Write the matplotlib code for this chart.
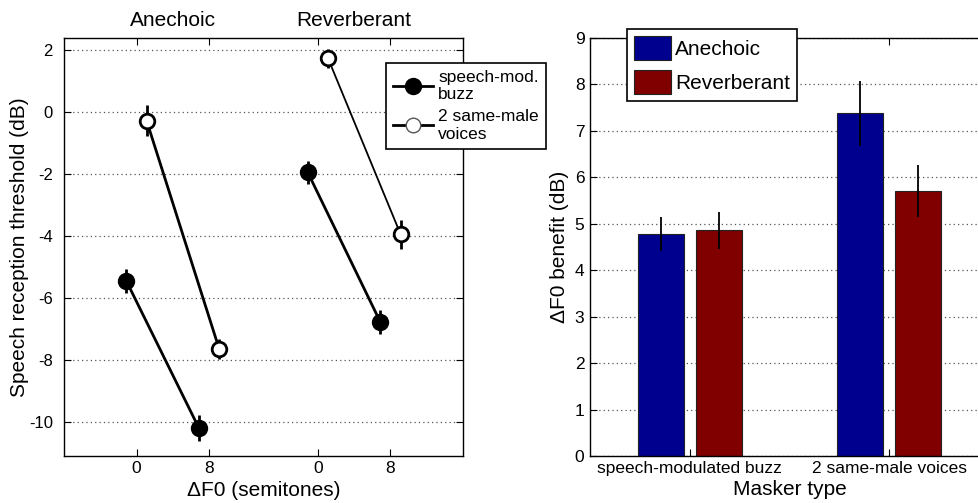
import matplotlib
matplotlib.use("Agg")
import matplotlib.pyplot as plt
import numpy as np
from matplotlib.lines import Line2D

plt.rcParams["font.family"] = ["Liberation Sans", "DejaVu Sans"]
plt.rcParams["axes.unicode_minus"] = False

# Left panel: SRT by masker, room and dF0
conditions = ["Anechoic", "Reverberant"]
df0_labels = ["0", "8", "0", "8"]
buzz_srt = {"Anechoic": [-5.45, -10.2], "Reverberant": [-1.94, -6.77]}
buzz_err = {"Anechoic": [0.4, 0.43], "Reverberant": [0.37, 0.4]}
voices_srt = {"Anechoic": [-0.28, -7.65], "Reverberant": [1.74, -3.94]}
voices_err = {"Anechoic": [0.5, 0.33], "Reverberant": [0.3, 0.47]}

# Right panel: dF0 benefit
maskers = ["speech-modulated buzz", "2 same-male voices"]
benefit_anechoic = [4.78, 7.38]
benefit_anechoic_err = [0.36, 0.7]
benefit_reverb = [4.86, 5.71]
benefit_reverb_err = [0.4, 0.56]

BLUE = "#00008f"
RED = "#800000"

fig = plt.figure(figsize=(9.79, 5.03), dpi=100)

# ---- left panel
ax = fig.add_axes([64 / 979, 1 - 456 / 503, 399 / 979, 418 / 503])
group_x = {"Anechoic": np.array([1.0, 2.0]), "Reverberant": np.array([3.5, 4.5])}
offset = 0.14
line_w = {"Anechoic": 2.0, "Reverberant": 1.3}

for cond in conditions:
    xs = group_x[cond]
    ax.errorbar(xs - offset, buzz_srt[cond], yerr=buzz_err[cond], color="black",
                linewidth=2.0, elinewidth=2.0, capsize=0, marker="o", markersize=11.5,
                markerfacecolor="black", markeredgecolor="black", zorder=3)
    ax.errorbar(xs + offset, voices_srt[cond], yerr=voices_err[cond], color="black",
                linewidth=line_w[cond], elinewidth=2.0, capsize=0, marker="o", markersize=10.5,
                markerfacecolor="white", markeredgecolor="black", markeredgewidth=2.0, zorder=3)
    ax.text(xs.mean(), 1.043, cond, transform=ax.get_xaxis_transform(),
            ha="center", va="center", fontsize=15)

ax.set_xlim(0, 5.5)
ax.set_ylim(-11.1, 2.4)
ax.set_xticks(np.concatenate([group_x[c] for c in conditions]))
ax.set_xticklabels(df0_labels)
ax.set_yticks(np.arange(-10, 3, 2))
ax.yaxis.grid(True, linestyle=(0, (1, 2.5)), color="#555555", linewidth=0.9)
ax.set_axisbelow(True)
ax.tick_params(direction="in", top=True, right=True, labelsize=12.5, length=5)
ax.tick_params(axis="y", pad=8, labelsize=12)
ax.set_xlabel("\u0394F0 (semitones)", fontsize=15, labelpad=3.5)
ax.set_ylabel("Speech reception threshold (dB)", fontsize=15, labelpad=0)

handles = [
    Line2D([], [], color="black", linewidth=2.0, marker="o", markersize=11.5,
           markerfacecolor="black"),
    Line2D([], [], color="black", linewidth=2.0, marker="o", markersize=10.5,
           markerfacecolor="white", markeredgecolor="#555555", markeredgewidth=1.0),
]
leg = ax.legend(handles, ["speech-mod.\nbuzz", "2 same-male\nvoices"], loc="upper left",
                bbox_to_anchor=(386 / 979, 1 - 63 / 503), bbox_transform=fig.transFigure,
                borderaxespad=0, fontsize=12.5, fancybox=False, framealpha=1,
                edgecolor="black", handlelength=2.3, handletextpad=0.3,
                labelspacing=0.4, borderpad=0.4)
leg.get_frame().set_linewidth(1.2)

# ---- right panel (cropped on the right like the original)
bx = fig.add_axes([590 / 979, 1 - 456 / 503, 399 / 979, 418 / 503])
pos = np.arange(1, len(maskers) + 1)
bw = 0.23
bx.bar(pos - 0.145, benefit_anechoic, width=bw, color=BLUE, edgecolor="#222222",
       linewidth=0.8, label="Anechoic", zorder=2)
bx.bar(pos + 0.145, benefit_reverb, width=bw, color=RED, edgecolor="#222222",
       linewidth=0.8, label="Reverberant", zorder=2)
bx.errorbar(pos - 0.145, benefit_anechoic, yerr=benefit_anechoic_err, fmt="none",
            ecolor="black", elinewidth=1.3, capsize=0, zorder=3)
bx.errorbar(pos + 0.145, benefit_reverb, yerr=benefit_reverb_err, fmt="none",
            ecolor="black", elinewidth=1.3, capsize=0, zorder=3)
bx.set_xlim(0.5, 2.5)
bx.set_ylim(0, 9)
bx.set_xticks(pos)
bx.set_xticklabels(maskers)
bx.set_yticks(np.arange(0, 10, 1))
bx.yaxis.grid(True, linestyle=(0, (1, 2.5)), color="#555555", linewidth=0.9)
bx.set_axisbelow(True)
bx.tick_params(direction="in", top=True, right=True, labelsize=12.5, length=5)
bx.tick_params(axis="y", pad=4)
bx.set_xlabel("Masker type", fontsize=15, labelpad=3)
bx.set_ylabel("\u0394F0 benefit (dB)", fontsize=15, labelpad=4)

leg2 = bx.legend(loc="upper left", bbox_to_anchor=(627 / 979, 1 - 29 / 503),
                 bbox_transform=fig.transFigure, borderaxespad=0, fontsize=15,
                 fancybox=False, framealpha=1, edgecolor="black", handlelength=1.75,
                 handleheight=1.4, handletextpad=0.2, labelspacing=0.45, borderpad=0.35)
leg2.get_frame().set_linewidth(1.2)

for a in (ax, bx):
    for s in a.spines.values():
        s.set_linewidth(1.0)

fig.savefig("out.png", dpi=100)
